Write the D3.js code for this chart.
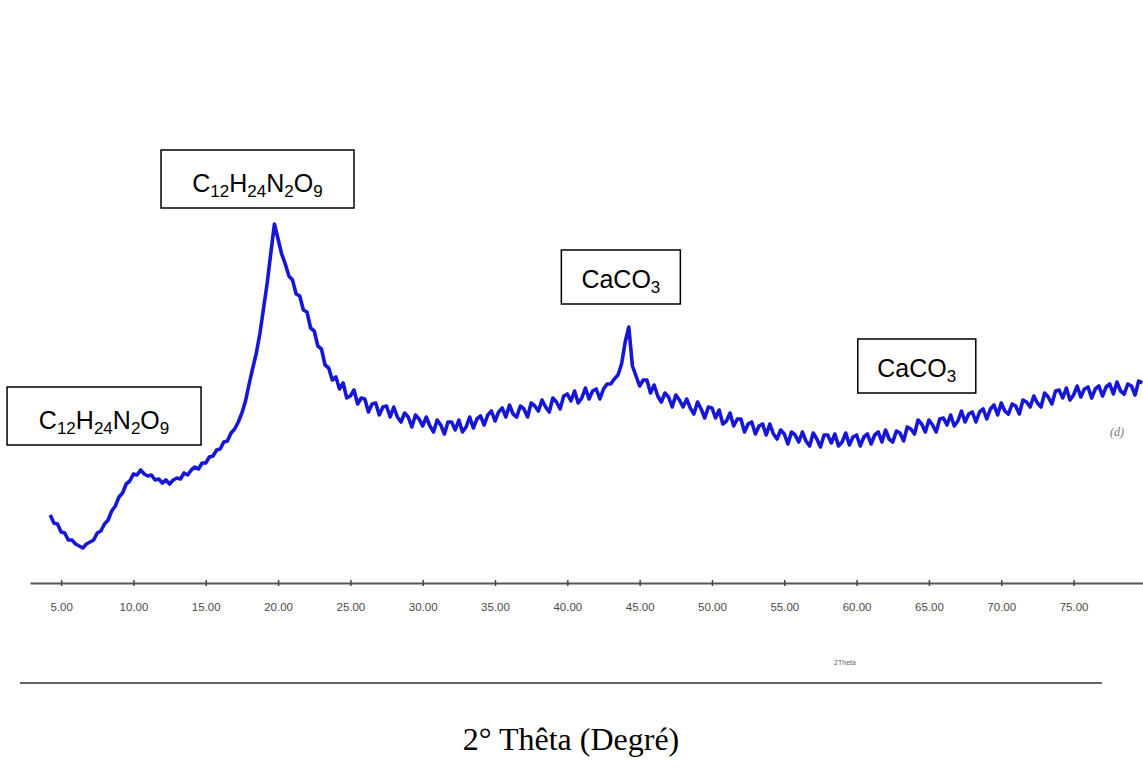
<!DOCTYPE html>
<meta charset="utf-8">
<script src="https://d3js.org/d3.v7.min.js"></script>
<body>
    <div id="viz"></div>
</body>

<style>
    body { margin : 0; background : white; }
    #viz { width : 1143px; height : 778px; }
</style>

<script>
    // scan: 2theta from 4.25 in 0.25 steps, intensity (arb. units)
    let thetaStart = 4.25, thetaStep = 0.25;
    let intensity = [
        65, 57, 56,
        48, 47, 40, 40,
        36, 34, 32, 36,
        38, 40, 47, 49,
        56, 60, 69, 74,
        83, 87, 96, 99,
        106, 105, 110, 106,
        104, 105, 100, 101,
        97, 100, 96, 100,
        102, 101, 107, 105,
        110, 113, 111, 117,
        117, 123, 124, 130,
        131, 138, 139, 147,
        151, 158, 167, 179,
        196, 212, 227, 247,
        272, 297, 327, 356,
        341, 326, 316, 304,
        300, 286, 284, 270,
        268, 252, 249, 234,
        231, 215, 212, 200,
        203, 191, 197, 182,
        184, 190, 176, 182,
        181, 168, 176, 177,
        165, 173, 174, 163,
        173, 163, 158, 167,
        163, 153, 165, 161,
        154, 163, 154, 148,
        160, 155, 146, 158,
        158, 150, 160, 148,
        153, 163, 152, 161,
        164, 155, 165, 169,
        159, 168, 172, 163,
        175, 166, 163, 174,
        171, 163, 177, 174,
        169, 180, 173, 168,
        182, 178, 171, 184,
        186, 179, 189, 177,
        182, 192, 181, 189,
        191, 181, 191, 196,
        196, 201, 205, 216,
        238, 253, 214, 204,
        194, 200, 200, 187,
        195, 184, 178, 187,
        183, 173, 185, 180,
        173, 181, 172, 166,
        178, 171, 162, 173,
        172, 162, 170, 156,
        159, 167, 154, 161,
        161, 148, 156, 158,
        146, 154, 156, 145,
        156, 146, 141, 150,
        146, 136, 148, 145,
        138, 148, 139, 134,
        147, 141, 133, 145,
        145, 137, 146, 134,
        138, 147, 135, 143,
        145, 134, 143, 146,
        136, 145, 148, 138,
        150, 141, 138, 149,
        147, 139, 153, 151,
        146, 160, 156, 148,
        160, 155, 148, 161,
        162, 155, 165, 154,
        159, 169, 158, 166,
        168, 158, 168, 171,
        161, 171, 175, 165,
        177, 169, 166, 176,
        174, 166, 180, 178,
        173, 184, 177, 173,
        187, 183, 176, 189,
        190, 182, 192, 180,
        185, 194, 183, 191,
        193, 182, 191, 194,
        184, 193, 196, 186,
        198, 189, 186, 196,
        194, 185, 199, 197
    ];

    let tickValues = [5, 10, 15, 20, 25, 30, 35, 40, 45, 50, 55, 60, 65, 70, 75];

    // peak labels and where their boxes sit (theta of box centre, intensity of box bottom)
    let peakLabels = ["C12H24N2O9", "C12H24N2O9", "CaCO3", "CaCO3"];
    let labelTheta = [7.97, 18.58, 43.7, 64.16];
    let labelLevel = [135, 372, 276, 187];

    let axisTitle = "2° Thêta (Degré)";

    let width = 1143, height = 778;

    let svg = d3.select("#viz")
        .append("svg")
            .attr("width", width)
            .attr("height", height);

    svg.append("rect")
        .attr("width", width)
        .attr("height", height)
        .style("fill", "white");

    let x = d3.scaleLinear()
        .domain([2.85, 79.8])
        .range([30, 1143]);
    let y = d3.scaleLinear()
        .domain([0, 400])
        .range([580, 180]);

    let data = intensity.map((v, i) => ({theta: thetaStart + i*thetaStep, value: v}));

    //x axis
    let xAxis = svg.append("g")
        .attr("transform", `translate(0,583)`)
        .call(d3.axisBottom(x)
            .tickValues(tickValues)
            .tickFormat(d3.format(".2f"))
            .tickSize(3)
            .tickSizeOuter(0));
    xAxis.select(".domain")
        .attr("stroke", "#555")
        .attr("stroke-width", 2);
    xAxis.selectAll(".tick line")
        .attr("y1", -3)
        .attr("stroke", "#444")
        .attr("stroke-width", 1.5);
    xAxis.selectAll(".tick text")
        .attr("y", 20)
        .attr("font-family", "Liberation Sans, Arial, sans-serif")
        .attr("font-size", 11.5)
        .attr("fill", "#4a4a4a");

    //curve
    let line = d3.line()
        .x(d => x(d.theta))
        .y(d => y(d.value));
    svg.append("path")
        .datum(data)
        .attr("d", line)
        .style("fill", "none")
        .style("stroke", "#1616d6")
        .style("stroke-width", 3.6)
        .style("stroke-linejoin", "round");

    svg.append("text")
        .attr("x", 1117)
        .attr("y", 436)
        .text("(d)")
        .attr("text-anchor", "middle")
        .style("font-family", "Liberation Serif, serif")
        .style("font-style", "italic")
        .style("font-size", 12)
        .style("fill", "#777");

    //peak boxes
    let boxW = [194, 193, 119, 118], boxH = [58, 58, 54, 54];
    peakLabels.forEach(function(lab, i) {
        let cx = x(labelTheta[i]), by = y(labelLevel[i]);
        let g = svg.append("g");
        g.append("rect")
            .attr("x", cx - boxW[i]/2)
            .attr("y", by - boxH[i])
            .attr("width", boxW[i])
            .attr("height", boxH[i])
            .style("fill", "white")
            .style("stroke", "black")
            .style("stroke-width", 1.5);
        let t = g.append("text")
            .attr("x", cx)
            .attr("y", by - 16)
            .attr("text-anchor", "middle")
            .style("font-family", "Liberation Sans, Arial, sans-serif")
            .style("font-size", 25)
            .style("fill", "black");
        let sub = false;
        lab.split(/(\d+)/).filter(s => s.length).forEach(function(part) {
            let isNum = /^\d+$/.test(part);
            let ts = t.append("tspan").text(part);
            if (isNum) { ts.attr("dy", 5).style("font-size", 17); sub = true; }
            else if (sub) { ts.attr("dy", -5); sub = false; }
        });
    });

    //second rule and its small caption
    svg.append("line")
        .attr("x1", 20).attr("x2", 1102)
        .attr("y1", 683).attr("y2", 683)
        .style("stroke", "#666")
        .style("stroke-width", 2);
    svg.append("text")
        .attr("x", 845)
        .attr("y", 665)
        .text("2Theta")
        .attr("text-anchor", "middle")
        .style("font-family", "Liberation Sans, Arial, sans-serif")
        .style("font-size", 7)
        .style("fill", "#666");

    svg.append("text")
        .attr("x", 571)
        .attr("y", 750)
        .text(axisTitle)
        .attr("text-anchor", "middle")
        .style("font-family", "Liberation Serif, Times New Roman, serif")
        .style("font-size", 32)
        .style("fill", "black");
</script>
